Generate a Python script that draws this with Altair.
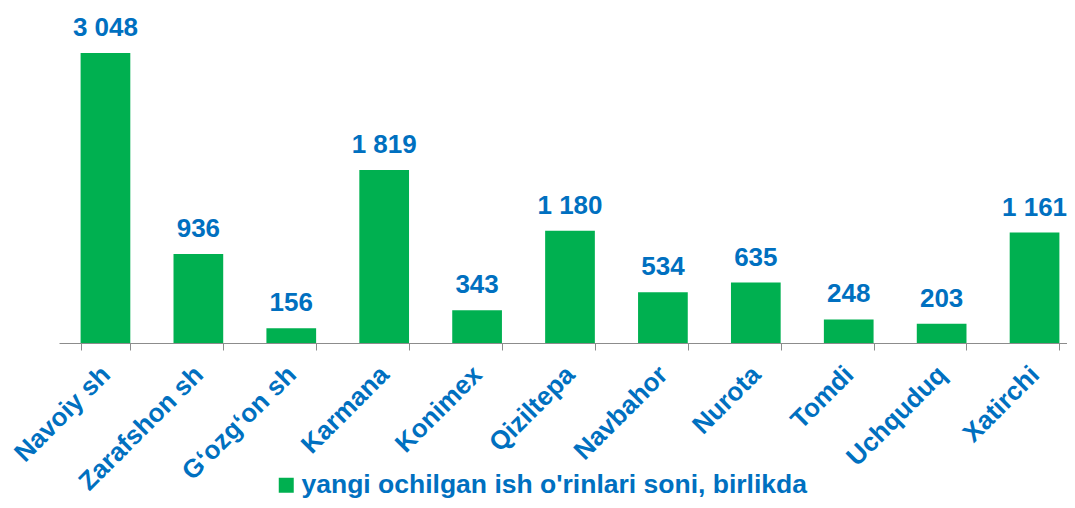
import altair as alt
import pandas as pd

categories = ["Navoiy sh", "Zarafshon sh", "G\u2018ozg\u2018on sh", "Karmana", "Konimex",
              "Qiziltepa", "Navbahor", "Nurota", "Tomdi", "Uchquduq", "Xatirchi"]
values = [3048, 936, 156, 1819, 343, 1180, 534, 635, 248, 203, 1161]
series_name = "yangi ochilgan ish o'rinlari soni, birlikda"

df = pd.DataFrame({
    "category": categories,
    "value": values,
    "series": [series_name] * len(categories),
})
df["label"] = df["value"].map(lambda v: f"{v:,}".replace(",", " "))

FONT = "Liberation Sans"
BLUE = "#0070C0"
GREEN = "#00B050"

x_enc = alt.X(
    "category:N",
    sort=categories,
    scale=alt.Scale(paddingInner=0.465, paddingOuter=0.2325),
    axis=alt.Axis(
        title=None,
        domainColor="#8c8c8c",
        tickColor="#8c8c8c",
        tickSize=7,
        tickBand="extent",
        labelAngle=-45,
        labelAlign="right",
        labelBaseline="top",
        labelFontSize=26,
        labelFontWeight="bold",
        labelFont=FONT,
        labelColor=BLUE,
        labelPadding=11,
        labelOffset=-9,
        labelLimit=0,
        labelOverlap=False,
    ),
)
y_enc = alt.Y("value:Q", scale=alt.Scale(domain=[0, 3363], nice=False), axis=None)

bars = alt.Chart(df).mark_bar().encode(
    x=x_enc,
    y=y_enc,
    color=alt.Color(
        "series:N",
        scale=alt.Scale(range=[GREEN]),
        legend=alt.Legend(
            title=None,
            orient="none",
            legendX=214,
            legendY=449,
            symbolType="square",
            symbolSize=225,
            symbolStrokeWidth=0,
            symbolOpacity=1,
            labelFontSize=26.5,
            labelFontWeight="bold",
            labelFont=FONT,
            labelColor=BLUE,
            labelLimit=0,
            labelOffset=2,
        ),
    ),
)

texts = alt.Chart(df).mark_text(
    baseline="alphabetic", dy=-17, fontSize=26, fontWeight="bold", font=FONT, color=BLUE
).encode(x=alt.X("category:N", sort=categories), y=alt.Y("value:Q"), text="label:N")

chart = alt.layer(bars, texts).properties(
    width=1022,
    height=320,
    autosize=alt.AutoSizeParams(type="none"),
    padding={"left": 51, "top": 15, "right": -14, "bottom": 157},
).configure_view(stroke=None)

chart.save("out.html", embed_options={"renderer": "svg", "actions": False})
